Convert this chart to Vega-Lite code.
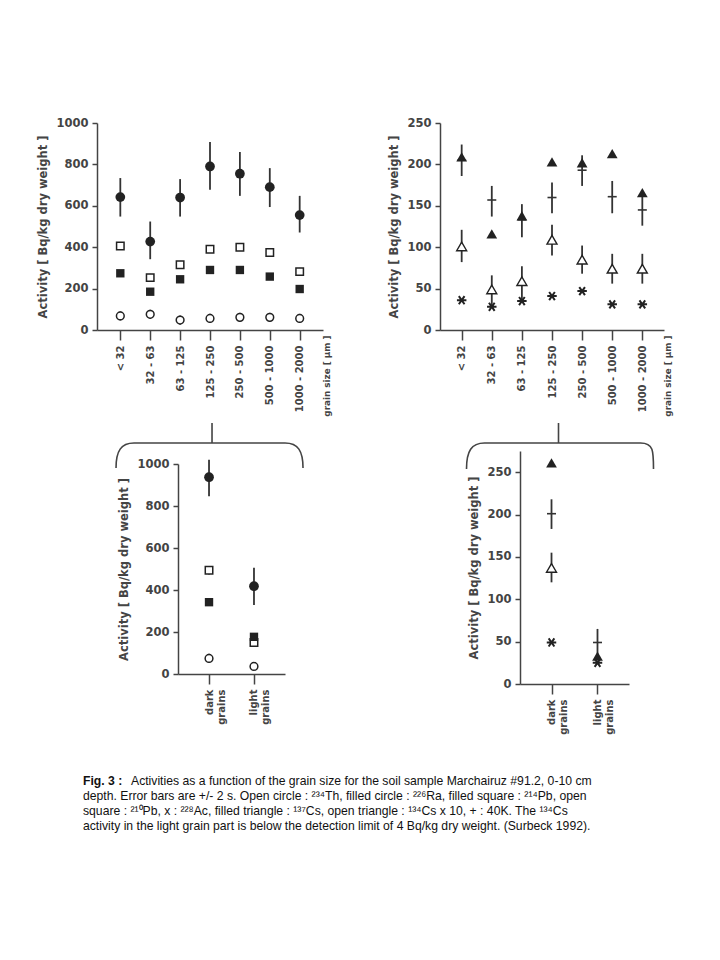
{
  "$schema": "https://vega.github.io/schema/vega-lite/v6.json",
  "autosize": {"type": "pad"},
  "padding": {"left": 37, "top": 117, "right": 5, "bottom": 5},
  "background": "white",
  "config": {
    "view": {"stroke": null},
    "font": "DejaVu Sans",
    "axis": {"grid": false, "domainColor": "#444", "domainWidth": 1.5, "tickColor": "#444", "tickWidth": 1.5, "labelColor": "#444", "titleColor": "#444", "labelFont": "DejaVu Sans", "titleFont": "DejaVu Sans", "labelFontWeight": "bold", "titleFontWeight": "bold", "labelOverlap": false, "labelBound": false},
    "axisY": {"labelFontSize": 11.5, "titleFontSize": 11.5, "tickSize": 5, "labelPadding": 4, "titlePadding": 7},
    "axisX": {"labelFontSize": 10, "labelAngle": 270, "tickSize": 10, "labelPadding": 5, "titleFontSize": 8.8, "titleAngle": 270, "titleAlign": "right", "titleBaseline": "middle"}
  },
  "datasets": {
    "tl": [
      {"size": "< 32", "n": "Ra", "v": 642, "lo": 548, "hi": 734},
      {"size": "32 - 63", "n": "Ra", "v": 427, "lo": 342, "hi": 524},
      {"size": "63 - 125", "n": "Ra", "v": 640, "lo": 548, "hi": 729},
      {"size": "125 - 250", "n": "Ra", "v": 790, "lo": 677, "hi": 908},
      {"size": "250 - 500", "n": "Ra", "v": 755, "lo": 648, "hi": 860},
      {"size": "500 - 1000", "n": "Ra", "v": 690, "lo": 594, "hi": 782},
      {"size": "1000 - 2000", "n": "Ra", "v": 555, "lo": 471, "hi": 648},
      {"size": "< 32", "n": "Pb210", "v": 406, "lo": 388, "hi": 424},
      {"size": "32 - 63", "n": "Pb210", "v": 253, "lo": 235, "hi": 271},
      {"size": "63 - 125", "n": "Pb210", "v": 315, "lo": 297, "hi": 333},
      {"size": "125 - 250", "n": "Pb210", "v": 390, "lo": 372, "hi": 408},
      {"size": "250 - 500", "n": "Pb210", "v": 400, "lo": 382, "hi": 418},
      {"size": "500 - 1000", "n": "Pb210", "v": 374, "lo": 356, "hi": 392},
      {"size": "1000 - 2000", "n": "Pb210", "v": 282, "lo": 264, "hi": 300},
      {"size": "< 32", "n": "Pb214", "v": 274},
      {"size": "32 - 63", "n": "Pb214", "v": 185},
      {"size": "63 - 125", "n": "Pb214", "v": 245},
      {"size": "125 - 250", "n": "Pb214", "v": 290},
      {"size": "250 - 500", "n": "Pb214", "v": 290},
      {"size": "500 - 1000", "n": "Pb214", "v": 258},
      {"size": "1000 - 2000", "n": "Pb214", "v": 198},
      {"size": "< 32", "n": "Th", "v": 68, "lo": 46, "hi": 90},
      {"size": "32 - 63", "n": "Th", "v": 76, "lo": 54, "hi": 98},
      {"size": "63 - 125", "n": "Th", "v": 48, "lo": 26, "hi": 70},
      {"size": "125 - 250", "n": "Th", "v": 56, "lo": 34, "hi": 78},
      {"size": "250 - 500", "n": "Th", "v": 61, "lo": 39, "hi": 83},
      {"size": "500 - 1000", "n": "Th", "v": 61, "lo": 39, "hi": 83},
      {"size": "1000 - 2000", "n": "Th", "v": 56, "lo": 34, "hi": 78}
    ],
    "tr": [
      {"size": "< 32", "n": "K", "v": 205, "lo": 186, "hi": 224},
      {"size": "32 - 63", "n": "K", "v": 157, "lo": 137, "hi": 174},
      {"size": "63 - 125", "n": "K", "v": 133, "lo": 112, "hi": 152},
      {"size": "125 - 250", "n": "K", "v": 160, "lo": 141, "hi": 178},
      {"size": "250 - 500", "n": "K", "v": 193, "lo": 174, "hi": 211},
      {"size": "500 - 1000", "n": "K", "v": 161, "lo": 141, "hi": 180},
      {"size": "1000 - 2000", "n": "K", "v": 145, "lo": 126, "hi": 163},
      {"size": "< 32", "n": "Cs134", "v": 101, "lo": 82, "hi": 121},
      {"size": "32 - 63", "n": "Cs134", "v": 49, "lo": 30, "hi": 66},
      {"size": "63 - 125", "n": "Cs134", "v": 59, "lo": 34, "hi": 77},
      {"size": "125 - 250", "n": "Cs134", "v": 109, "lo": 90, "hi": 127},
      {"size": "250 - 500", "n": "Cs134", "v": 85, "lo": 68, "hi": 102},
      {"size": "500 - 1000", "n": "Cs134", "v": 74, "lo": 56, "hi": 92},
      {"size": "1000 - 2000", "n": "Cs134", "v": 74, "lo": 56, "hi": 92},
      {"size": "< 32", "n": "Cs137", "v": 209},
      {"size": "32 - 63", "n": "Cs137", "v": 116},
      {"size": "63 - 125", "n": "Cs137", "v": 138},
      {"size": "125 - 250", "n": "Cs137", "v": 203},
      {"size": "250 - 500", "n": "Cs137", "v": 202},
      {"size": "500 - 1000", "n": "Cs137", "v": 213},
      {"size": "1000 - 2000", "n": "Cs137", "v": 166},
      {"size": "< 32", "n": "Ac", "v": 36},
      {"size": "32 - 63", "n": "Ac", "v": 28},
      {"size": "63 - 125", "n": "Ac", "v": 35},
      {"size": "125 - 250", "n": "Ac", "v": 41},
      {"size": "250 - 500", "n": "Ac", "v": 47},
      {"size": "500 - 1000", "n": "Ac", "v": 31},
      {"size": "1000 - 2000", "n": "Ac", "v": 31}
    ],
    "bl": [
      {"size": "dark grains", "n": "Ra", "v": 937, "lo": 846, "hi": 1020},
      {"size": "light grains", "n": "Ra", "v": 418, "lo": 329, "hi": 506},
      {"size": "dark grains", "n": "Pb210", "v": 494, "lo": 474, "hi": 514},
      {"size": "light grains", "n": "Pb210", "v": 150, "lo": 135, "hi": 165},
      {"size": "dark grains", "n": "Pb214", "v": 342},
      {"size": "light grains", "n": "Pb214", "v": 177},
      {"size": "dark grains", "n": "Th", "v": 74, "lo": 52, "hi": 96},
      {"size": "light grains", "n": "Th", "v": 36}
    ],
    "br": [
      {"size": "dark grains", "n": "K", "v": 201, "lo": 183, "hi": 218},
      {"size": "light grains", "n": "K", "v": 49, "lo": 33, "hi": 65},
      {"size": "dark grains", "n": "Cs134", "v": 137, "lo": 120, "hi": 155},
      {"size": "dark grains", "n": "Cs137", "v": 261},
      {"size": "light grains", "n": "Cs137", "v": 33},
      {"size": "dark grains", "n": "Ac", "v": 49},
      {"size": "light grains", "n": "Ac", "v": 25}
    ],
    "caption": [
      {"line": 1, "part": "bold", "text": "Fig. 3 :"},
      {"line": 1, "part": "rest", "text": "Activities as a function of the grain size for the soil sample Marchairuz #91.2, 0-10 cm"},
      {"line": 2, "part": "rest", "text": "depth. Error bars are  +/- 2 s.  Open circle : ²³⁴Th, filled circle : ²²⁶Ra, filled square : ²¹⁴Pb, open"},
      {"line": 3, "part": "rest", "text": "square : ²¹⁰Pb,  x : ²²⁸Ac, filled triangle : ¹³⁷Cs, open triangle : ¹³⁴Cs x 10, + : 40K. The ¹³⁴Cs"},
      {"line": 4, "part": "rest", "text": "activity in the light grain part is below the detection limit of 4 Bq/kg dry weight. (Surbeck 1992)."}
    ]
  },
  "vconcat": [
    {
      "vconcat": [
        {
          "hconcat": [
            {
              "width": 226, "height": 207,
              "data": {"name": "tl"},
              "encoding": {
                "x": {"field": "size", "type": "ordinal", "sort": ["< 32", "32 - 63", "63 - 125", "125 - 250", "250 - 500", "500 - 1000", "1000 - 2000"], "scale": {"type": "point", "padding": 0.78}, "axis": {"title": "grain size [ μm ]", "titleX": 229, "titleY": 5}}
              },
              "layer": [
                {"transform": [{"filter": "isValid(datum.lo)"}], "mark": {"type": "rule", "color": "#333", "strokeWidth": 1.8},
                 "encoding": {"y": {"field": "lo", "type": "quantitative", "title": "Activity [ Bq/kg dry weight ]", "scale": {"domain": [0, 1000], "nice": false}, "axis": {"values": [0, 100, 200, 300, 400, 500, 600, 700, 800, 900, 1000], "format": "d", "labelExpr": "datum.value % 200 == 0 ? datum.label : ''"}}, "y2": {"field": "hi"}}},
                {"transform": [{"filter": "datum.n == 'Ra'"}], "mark": {"type": "point", "shape": "circle", "filled": true, "color": "#222", "opacity": 1, "size": 95},
                 "encoding": {"y": {"field": "v", "type": "quantitative", "title": "Activity [ Bq/kg dry weight ]"}}},
                {"transform": [{"filter": "datum.n == 'Pb210'"}], "mark": {"type": "point", "shape": "square", "filled": true, "fill": "white", "stroke": "#222", "strokeWidth": 1.5, "opacity": 1, "size": 56},
                 "encoding": {"y": {"field": "v", "type": "quantitative", "title": "Activity [ Bq/kg dry weight ]"}}},
                {"transform": [{"filter": "datum.n == 'Pb214'"}], "mark": {"type": "point", "shape": "square", "filled": true, "color": "#222", "opacity": 1, "size": 70},
                 "encoding": {"y": {"field": "v", "type": "quantitative", "title": "Activity [ Bq/kg dry weight ]"}}},
                {"transform": [{"filter": "datum.n == 'Th'"}], "mark": {"type": "point", "shape": "circle", "filled": true, "fill": "white", "stroke": "#222", "strokeWidth": 1.5, "opacity": 1, "size": 60},
                 "encoding": {"y": {"field": "v", "type": "quantitative", "title": "Activity [ Bq/kg dry weight ]"}}}
              ]
            },
            {
              "width": 224, "height": 207,
              "data": {"name": "tr"},
              "encoding": {
                "x": {"field": "size", "type": "ordinal", "sort": ["< 32", "32 - 63", "63 - 125", "125 - 250", "250 - 500", "500 - 1000", "1000 - 2000"], "scale": {"type": "point", "padding": 0.72}, "axis": {"title": "grain size [ μm ]", "titleX": 227, "titleY": 5}}
              },
              "layer": [
                {"transform": [{"filter": "isValid(datum.lo)"}], "mark": {"type": "rule", "color": "#333", "strokeWidth": 1.8},
                 "encoding": {"y": {"field": "lo", "type": "quantitative", "title": "Activity [ Bq/kg dry weight ]", "scale": {"domain": [0, 250], "nice": false}, "axis": {"values": [0, 25, 50, 75, 100, 125, 150, 175, 200, 225, 250], "format": "d", "labelExpr": "datum.value % 50 == 0 ? datum.label : ''"}}, "y2": {"field": "hi"}}},
                {"transform": [{"filter": "datum.n == 'K'"}], "mark": {"type": "tick", "color": "#333", "opacity": 1, "size": 9, "thickness": 1.6},
                 "encoding": {"y": {"field": "v", "type": "quantitative", "title": "Activity [ Bq/kg dry weight ]"}}},
                {"transform": [{"filter": "datum.n == 'Cs137'"}], "mark": {"type": "point", "shape": "triangle-up", "filled": true, "color": "#222", "opacity": 1, "size": 115},
                 "encoding": {"y": {"field": "v", "type": "quantitative", "title": "Activity [ Bq/kg dry weight ]"}}},
                {"transform": [{"filter": "datum.n == 'Cs134'"}], "mark": {"type": "point", "shape": "triangle-up", "filled": true, "fill": "white", "stroke": "#222", "strokeWidth": 1.4, "opacity": 1, "size": 100},
                 "encoding": {"y": {"field": "v", "type": "quantitative", "title": "Activity [ Bq/kg dry weight ]"}}},
                {"transform": [{"filter": "datum.n == 'Ac'"}], "mark": {"type": "point", "shape": "M-1,0L1,0M-0.6,-0.85L0.6,0.85M-0.6,0.85L0.6,-0.85", "filled": false, "stroke": "#222", "strokeWidth": 2, "opacity": 1, "size": 90},
                 "encoding": {"y": {"field": "v", "type": "quantitative", "title": "Activity [ Bq/kg dry weight ]"}}}
              ]
            }
          ],
          "spacing": 57
        },
        {
          "hconcat": [
            {"width": 1, "height": 1, "data": {"values": [{}]}, "mark": {"type": "point", "opacity": 0}, "encoding": {}},
            {
              "hconcat": [
                {
                  "width": 107, "height": 223,
                  "data": {"name": "bl"},
                  "encoding": {
                    "x": {"field": "size", "type": "ordinal", "sort": ["dark grains", "light grains"], "scale": {"type": "point", "padding": 0.69}, "axis": {"title": null, "labelExpr": "split(datum.label, ' ')", "labelFontSize": 10, "labelLineHeight": 12}}
                  },
                  "layer": [
                    {"transform": [{"filter": "isValid(datum.lo)"}], "mark": {"type": "rule", "color": "#333", "strokeWidth": 1.8},
                     "encoding": {"y": {"field": "lo", "type": "quantitative", "title": "Activity [ Bq/kg dry weight ]", "scale": {"domain": [0, 1000], "nice": false, "range": [223, 13]}, "axis": {"values": [0, 100, 200, 300, 400, 500, 600, 700, 800, 900, 1000], "format": "d", "labelExpr": "datum.value % 200 == 0 ? datum.label : ''"}}, "y2": {"field": "hi"}}},
                    {"transform": [{"filter": "datum.n == 'Ra'"}], "mark": {"type": "point", "shape": "circle", "filled": true, "color": "#222", "opacity": 1, "size": 95},
                     "encoding": {"y": {"field": "v", "type": "quantitative", "title": "Activity [ Bq/kg dry weight ]"}}},
                    {"transform": [{"filter": "datum.n == 'Pb210'"}], "mark": {"type": "point", "shape": "square", "filled": true, "fill": "white", "stroke": "#222", "strokeWidth": 1.5, "opacity": 1, "size": 56},
                     "encoding": {"y": {"field": "v", "type": "quantitative", "title": "Activity [ Bq/kg dry weight ]"}}},
                    {"transform": [{"filter": "datum.n == 'Pb214'"}], "mark": {"type": "point", "shape": "square", "filled": true, "color": "#222", "opacity": 1, "size": 70},
                     "encoding": {"y": {"field": "v", "type": "quantitative", "title": "Activity [ Bq/kg dry weight ]"}}},
                    {"transform": [{"filter": "datum.n == 'Th'"}], "mark": {"type": "point", "shape": "circle", "filled": true, "fill": "white", "stroke": "#222", "strokeWidth": 1.5, "opacity": 1, "size": 60},
                     "encoding": {"y": {"field": "v", "type": "quantitative", "title": "Activity [ Bq/kg dry weight ]"}}},
                    {"data": {"values": [{}]}, "mark": {"type": "point", "shape": "M-0.93,0.25C-0.93,0.08 -0.88,0 -0.75,0L0.76,0C0.89,0 0.94,0.08 0.94,0.25M0.03,0L0.03,-0.2", "filled": false, "stroke": "#444", "strokeWidth": 1.6, "opacity": 1, "size": 40000},
                     "encoding": {"x": {"datum": "dark grains", "type": "ordinal"}, "y": {"datum": 1100, "type": "quantitative"}}}
                  ]
                },
                {
                  "width": 109, "height": 233,
                  "data": {"name": "br"},
                  "encoding": {
                    "x": {"field": "size", "type": "ordinal", "sort": ["dark grains", "light grains"], "scale": {"type": "point", "padding": 0.685}, "axis": {"title": null, "labelExpr": "split(datum.label, ' ')", "labelFontSize": 10, "labelLineHeight": 12}}
                  },
                  "layer": [
                    {"transform": [{"filter": "isValid(datum.lo)"}], "mark": {"type": "rule", "color": "#333", "strokeWidth": 1.8},
                     "encoding": {"y": {"field": "lo", "type": "quantitative", "title": "Activity [ Bq/kg dry weight ]", "scale": {"domain": [0, 275], "nice": false}, "axis": {"values": [0, 25, 50, 75, 100, 125, 150, 175, 200, 225, 250, 275], "format": "d", "labelExpr": "datum.value % 50 == 0 ? datum.label : ''"}}, "y2": {"field": "hi"}}},
                    {"transform": [{"filter": "datum.n == 'K'"}], "mark": {"type": "tick", "color": "#333", "opacity": 1, "size": 9, "thickness": 1.6},
                     "encoding": {"y": {"field": "v", "type": "quantitative", "title": "Activity [ Bq/kg dry weight ]"}}},
                    {"transform": [{"filter": "datum.n == 'Cs137'"}], "mark": {"type": "point", "shape": "triangle-up", "filled": true, "color": "#222", "opacity": 1, "size": 115},
                     "encoding": {"y": {"field": "v", "type": "quantitative", "title": "Activity [ Bq/kg dry weight ]"}}},
                    {"transform": [{"filter": "datum.n == 'Cs134'"}], "mark": {"type": "point", "shape": "triangle-up", "filled": true, "fill": "white", "stroke": "#222", "strokeWidth": 1.4, "opacity": 1, "size": 100},
                     "encoding": {"y": {"field": "v", "type": "quantitative", "title": "Activity [ Bq/kg dry weight ]"}}},
                    {"transform": [{"filter": "datum.n == 'Ac'"}], "mark": {"type": "point", "shape": "M-1,0L1,0M-0.6,-0.85L0.6,0.85M-0.6,0.85L0.6,-0.85", "filled": false, "stroke": "#222", "strokeWidth": 2, "opacity": 1, "size": 90},
                     "encoding": {"y": {"field": "v", "type": "quantitative", "title": "Activity [ Bq/kg dry weight ]"}}},
                    {"data": {"values": [{}]}, "mark": {"type": "point", "shape": "M-0.85,0.26C-0.85,0.08 -0.8,0 -0.67,0L0.89,0C1.02,0 1.02,0.08 1.02,0.26M0.07,0L0.07,-0.2", "filled": false, "stroke": "#444", "strokeWidth": 1.6, "opacity": 1, "size": 40000},
                     "encoding": {"x": {"datum": "dark grains", "type": "ordinal"}, "y": {"datum": 284.5, "type": "quantitative"}}}
                  ]
                }
              ],
              "spacing": 156
            }
          ],
          "spacing": 11
        }
      ],
      "spacing": 2
    },
    {
      "width": 540, "height": 60,
      "data": {"name": "caption"},
      "encoding": {
        "y": {"field": "line", "type": "ordinal", "scale": {"type": "point", "padding": 0.5}, "axis": null},
        "x": {"datum": 0, "type": "quantitative", "scale": {"domain": [0, 1]}, "axis": null},
        "text": {"field": "text"}
      },
      "layer": [
        {"transform": [{"filter": "datum.part == 'bold'"}], "mark": {"type": "text", "align": "left", "baseline": "middle", "font": "Liberation Sans", "fontSize": 12.2, "fontWeight": "bold", "color": "#111", "dx": -14}},
        {"transform": [{"filter": "datum.part == 'rest' && datum.line == 1"}], "mark": {"type": "text", "align": "left", "baseline": "middle", "font": "Liberation Sans", "fontSize": 12.2, "color": "#111", "dx": 34}},
        {"transform": [{"filter": "datum.line > 1"}], "mark": {"type": "text", "align": "left", "baseline": "middle", "font": "Liberation Sans", "fontSize": 12.2, "color": "#111", "dx": -14}}
      ]
    }
  ],
  "spacing": 38
}
